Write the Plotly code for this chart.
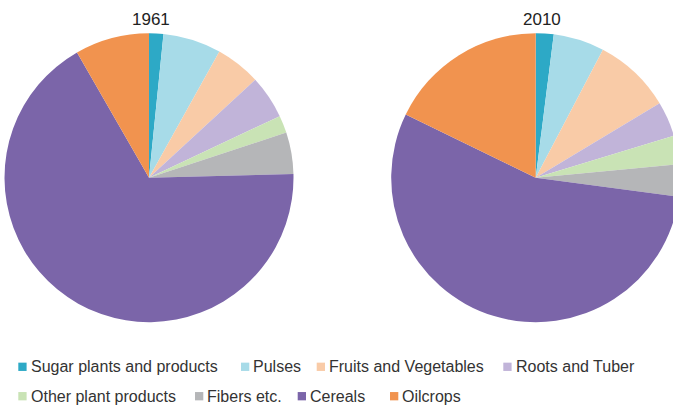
import plotly.graph_objects as go

# ---- data ----
categories = ["Sugar plants and products", "Pulses", "Fruits and Vegetables",
              "Roots and Tuber", "Other plant products", "Fibers etc.",
              "Cereals", "Oilcrops"]
share_1961 = [1.6, 6.5, 5.05, 4.85, 1.95, 4.65, 67.1, 8.3]
share_2010 = [2.0, 5.7, 8.7, 3.9, 3.2, 3.6, 55.1, 17.8]
years = ["1961", "2010"]
colors = ["#2da9c6", "#a7dbe8", "#f9cba7", "#c1b4d9", "#c9e3b5",
          "#b5b6b8", "#7b65a9", "#f1934f"]

# ---- layout (pixels) ----
W, H = 684, 406
def px(x):
    return x / W
def py(y):
    return 1 - y / H

pie_centers = [149.0, 535.7]
pie_r = 144.5
pie_cy = 177.7
title_x = [150.5, 542.0]
title_y = 19.0

fig = go.Figure()
for cx, vals, yr in zip(pie_centers, [share_1961, share_2010], years):
    fig.add_trace(go.Pie(
        labels=categories, values=vals, name=yr,
        sort=False, direction="clockwise", rotation=0,
        marker=dict(colors=colors, line=dict(width=0)),
        textinfo="none", hoverinfo="label+percent",
        showlegend=False,
        domain=dict(x=[px(cx - pie_r), px(cx + pie_r)],
                    y=[py(pie_cy + pie_r), py(pie_cy - pie_r)]),
    ))

annotations = []
for tx, yr in zip(title_x, years):
    annotations.append(dict(x=px(tx), y=py(title_y), xref="paper", yref="paper",
                            text=yr, showarrow=False, xanchor="center", yanchor="middle",
                            font=dict(family="Liberation Sans, Arial, sans-serif", size=17, color="#222222")))

# custom legend (positions are layout, not data)
legend_marker_x = [18.3, 241.0, 316.7, 503.3, 18.3, 195.0, 297.7, 390.0]
legend_row_y = [366.8, 366.8, 366.8, 366.8, 396.2, 396.2, 396.2, 396.2]
msize = 8.3
shapes = []
for cat, col, mx, my in zip(categories, colors, legend_marker_x, legend_row_y):
    shapes.append(dict(type="rect", xref="paper", yref="paper",
                       x0=px(mx), x1=px(mx + msize),
                       y0=py(my + msize / 2), y1=py(my - msize / 2),
                       fillcolor=col, line=dict(width=0)))
    annotations.append(dict(x=px(mx + 10.2), y=py(my), xref="paper", yref="paper",
                            text=cat, showarrow=False, xanchor="left", yanchor="middle",
                            font=dict(family="Liberation Sans, Arial, sans-serif", size=16, color="#333333")))

fig.update_layout(
    width=W, height=H, autosize=False,
    margin=dict(l=0, r=0, t=0, b=0),
    paper_bgcolor="white", plot_bgcolor="white",
    annotations=annotations, shapes=shapes,
    showlegend=False,
)

fig.write_html("out.html", config={"displayModeBar": False},
               post_script="document.body.style.margin='0';document.body.style.overflow='hidden';")
